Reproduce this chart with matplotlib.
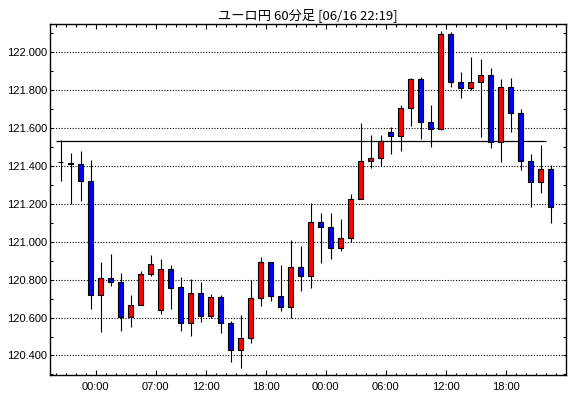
import matplotlib
matplotlib.use("Agg")
import matplotlib.pyplot as plt
import numpy as np
from matplotlib.ticker import MultipleLocator, FixedLocator

# hourly candles, EUR/JPY
opens = [121.418, 121.412, 121.409, 121.319, 120.720, 120.810, 120.789, 120.603, 120.668, 120.831,
         120.641, 120.857, 120.762, 120.572, 120.730, 120.609, 120.709, 120.572, 120.429, 120.493,
         120.704, 120.894, 120.715, 120.657, 120.868, 120.821, 121.104, 121.079, 120.968, 121.021,
         121.226, 121.426, 121.442, 121.579, 121.556, 121.705, 121.858, 121.632, 121.595, 122.095,
         121.842, 121.811, 121.842, 121.879, 121.526, 121.816, 121.679, 121.426, 121.316, 121.384]
highs = [121.537, 121.470, 121.480, 121.432, 120.892, 120.934, 120.833, 120.721, 120.848, 120.932,
         120.910, 120.878, 120.815, 120.804, 120.790, 120.725, 120.720, 120.582, 120.614, 120.800,
         120.917, 120.894, 120.877, 121.007, 120.975, 121.206, 121.150, 121.153, 121.118, 121.250,
         121.628, 121.565, 121.565, 121.607, 121.723, 121.863, 121.868, 121.723, 122.112, 122.105,
         121.896, 121.975, 121.963, 121.916, 121.860, 121.865, 121.702, 121.465, 121.512, 121.405]
lows = [121.318, 121.197, 121.213, 120.643, 120.524, 120.766, 120.530, 120.550, 120.668, 120.818,
        120.618, 120.646, 120.528, 120.501, 120.577, 120.598, 120.517, 120.367, 120.332, 120.464,
        120.661, 120.687, 120.632, 120.599, 120.738, 120.755, 120.887, 120.909, 120.951, 120.998,
        121.226, 121.388, 121.400, 121.461, 121.477, 121.612, 121.540, 121.498, 121.589, 121.814,
        121.756, 121.802, 121.551, 121.493, 121.419, 121.577, 121.377, 121.182, 121.256, 121.100]
closes = [121.418, 121.412, 121.318, 120.720, 120.810, 120.789, 120.603, 120.668, 120.831, 120.883,
          120.857, 120.757, 120.572, 120.730, 120.609, 120.709, 120.572, 120.429, 120.493, 120.704,
          120.894, 120.713, 120.657, 120.868, 120.821, 121.104, 121.079, 120.968, 121.021, 121.227,
          121.426, 121.442, 121.532, 121.556, 121.705, 121.858, 121.632, 121.595, 122.095, 121.842,
          121.811, 121.842, 121.879, 121.526, 121.816, 121.679, 121.426, 121.316, 121.384, 121.182]

ref_level = 121.532
time_labels = ['00:00', '07:00', '12:00', '18:00', '00:00', '06:00', '12:00', '18:00']
label_idx = [4, 10, 15, 21, 27, 33, 39, 45]
y_labels = [120.4, 120.6, 120.8, 121.0, 121.2, 121.4, 121.6, 121.8, 122.0]

o = np.array(opens)
h = np.array(highs)
l = np.array(lows)
c = np.array(closes)
x = np.arange(len(o))

fig = plt.figure(figsize=(5.7, 3.98), dpi=100)
ax = fig.add_axes([50/570, 1-375/398, 516/570, (375-24.3)/398])

cols = np.where(c > o, '#ff0000', np.where(c < o, '#0000ff', 'black'))
ax.vlines(x, l, h, color='black', lw=0.8, zorder=3)
bottoms = np.minimum(o, c)
heights = np.maximum(np.abs(c - o), 0.004)
ax.bar(x, heights, bottom=bottoms, width=0.5, color=cols, edgecolor='black',
       linewidth=0.8, zorder=4)

ax.hlines(ref_level, -0.5, len(o) - 1.5, color='black', lw=0.9, zorder=2)

ax.set_xlim(-1.05, 50.55)
ax.set_ylim(120.297, 122.147)

ax.yaxis.set_major_locator(FixedLocator(y_labels))
ax.yaxis.set_minor_locator(MultipleLocator(0.1))
ax.set_yticklabels(['%.3f' % v for v in y_labels])
ax.grid(axis='y', which='major', color='black', linestyle=(0, (1, 1.5)), lw=0.8, zorder=1)

ax.xaxis.set_major_locator(FixedLocator([i - 0.5 for i in label_idx]))
ax.xaxis.set_minor_locator(FixedLocator(np.arange(-0.5, len(o), 1.0)))
ax.set_xticklabels(time_labels)

ax.tick_params(axis='x', which='major', direction='in', length=3.8, width=0.8,
               top=True, bottom=True, pad=5)
ax.tick_params(axis='x', which='minor', direction='in', length=1.8, width=0.8,
               top=True, bottom=True)
ax.tick_params(axis='y', which='both', direction='in', length=2.2, width=0.8,
               left=True, right=True, pad=2)

for lab in ax.get_xticklabels() + ax.get_yticklabels():
    lab.set_family('Liberation Sans')
    lab.set_fontsize(8)

for s in ax.spines.values():
    s.set_linewidth(1.0)

ax.set_title('ユーロ円 60分足 [06/16 22:19]', family=['Noto Sans CJK JP', 'DejaVu Sans'],
             fontsize=9.5, pad=4)

fig.savefig('out.png', dpi=100)
